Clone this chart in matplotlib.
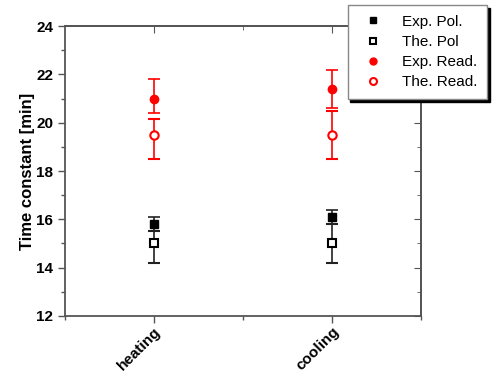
import matplotlib.pyplot as plt
import numpy as np

plt.rcParams['font.family'] = ['Liberation Sans', 'DejaVu Sans']

# данные
categories = ['heating', 'cooling']
exp_pol = [15.8, 16.1]
exp_pol_lo = [0.3, 0.3]
exp_pol_hi = [0.3, 0.3]
the_pol = [15.0, 15.0]
the_pol_lo = [0.8, 0.8]
the_pol_hi = [0.5, 0.8]
exp_read = [21.0, 21.4]
exp_read_lo = [0.6, 0.8]
exp_read_hi = [0.8, 0.8]
the_read = [19.5, 19.5]
the_read_lo = [1.0, 1.0]
the_read_hi = [0.65, 1.0]

x = np.arange(1, len(categories) + 1)
axis_col = '#555555'

fig = plt.figure(figsize=(4.98, 3.73), dpi=100)
ax = fig.add_axes([0.1305, 0.153, 0.715, 0.777])

eb = dict(capsize=4, elinewidth=1.2, capthick=1.2, linestyle='none', markersize=6)
ax.errorbar(x, exp_pol, yerr=[exp_pol_lo, exp_pol_hi], fmt='s', color='black',
            ecolor='#222222', label='Exp. Pol.', **eb)
ax.errorbar(x, the_pol, yerr=[the_pol_lo, the_pol_hi], fmt='s', color='black',
            mfc='white', mew=1.5, ecolor='#222222', label='The. Pol', **eb)
ax.errorbar(x, exp_read, yerr=[exp_read_lo, exp_read_hi], fmt='o', color='red',
            ecolor='red', label='Exp. Read.', **eb)
ax.errorbar(x, the_read, yerr=[the_read_lo, the_read_hi], fmt='o', color='red',
            mfc='white', mew=1.5, ecolor='red', label='The. Read.', **eb)

ax.set_xlim(0.5, 2.5)
ax.set_ylim(12, 24)
yt = np.arange(12, 25, 2)
ym = np.arange(13, 24, 2)
ax.set_yticks(yt)
ax.set_yticks(ym, minor=True)
ax.set_xticks(x)
ax.set_xticks([0.5, 1.5, 2.5], minor=True)
ax.set_xticklabels(categories, rotation=45, ha='right', rotation_mode='anchor',
                   fontweight='bold', fontsize=11)
for lab in ax.get_yticklabels():
    lab.set_fontweight('bold')
    lab.set_fontsize(11)

ax.tick_params(which='major', direction='out', length=5, width=1, color=axis_col)
ax.tick_params(which='minor', direction='out', length=3, width=1, color=axis_col)
ax.tick_params(axis='x', pad=1)
for s in ax.spines.values():
    s.set_color(axis_col)
    s.set_linewidth(1.3)

# зеркальные тики внутрь справа и сверху
sy = ax.secondary_yaxis('right')
sy.set_yticks(yt)
sy.set_yticks(ym, minor=True)
sy.tick_params(which='both', direction='in', labelright=False, color=axis_col)
sy.tick_params(which='major', length=5)
sy.tick_params(which='minor', length=3)
sy.spines['right'].set_color(axis_col)
sy.spines['right'].set_linewidth(1.3)
sx = ax.secondary_xaxis('top')
sx.set_xticks(x)
sx.set_xticks([1.5], minor=True)
sx.tick_params(which='both', direction='in', labeltop=False, color=axis_col)
sx.tick_params(which='major', length=5)
sx.tick_params(which='minor', length=3)
sx.spines['top'].set_color(axis_col)
sx.spines['top'].set_linewidth(1.3)

ax.set_ylabel('Time constant [min]', fontweight='bold', fontsize=12, labelpad=1)

handles, labels = ax.get_legend_handles_labels()
handles = [h[0] for h in handles]
leg = fig.legend(handles, labels, loc='upper right', bbox_to_anchor=(0.978, 0.987),
                 borderaxespad=0,
                 fancybox=False, shadow={'color': 'black', 'alpha': 1},
                 edgecolor='#888888', framealpha=1, fontsize=11,
                 handletextpad=0.9, labelspacing=0.4, borderpad=0.65,
                 handlelength=2.0)
for h in leg.legend_handles:
    h.set_markersize(5)

plt.savefig('out.png', dpi=100)
